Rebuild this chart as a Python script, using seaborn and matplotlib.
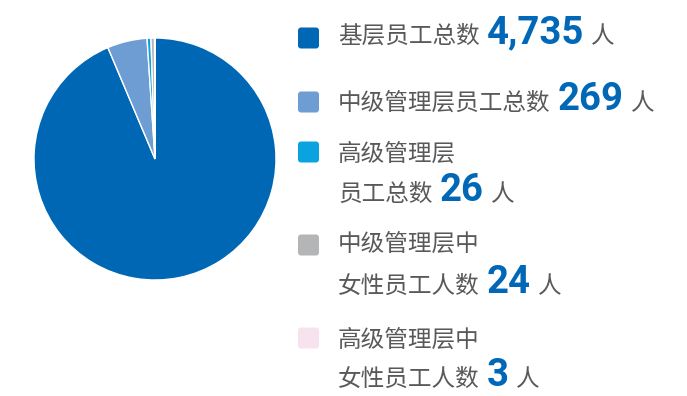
import matplotlib
matplotlib.use("Agg")
import matplotlib.pyplot as plt
from matplotlib.patches import FancyBboxPatch
from matplotlib.transforms import IdentityTransform
import seaborn as sns

# Headcount breakdown
categories = ["基层员工总数", "中级管理层员工总数", "高级管理层员工总数",
              "中级管理层中女性员工人数", "高级管理层中女性员工人数"]
counts = [4735, 269, 26, 24, 3]
count_labels = ["4,735", "269", "26", "24", "3"]
label_lines = [
    ["基层员工总数"],
    ["中级管理层员工总数"],
    ["高级管理层", "员工总数"],
    ["中级管理层中", "女性员工人数"],
    ["高级管理层中", "女性员工人数"],
]
slice_colors = ["#0067b5", "#6d9dd3", "#0aa3e0", "#b3b5b6", "#f6e3ee"]

sns.set_theme(style="white")
plt.rcParams["font.family"] = ["Noto Sans CJK SC", "DejaVu Sans"]

W, H = 687, 396
fig = plt.figure(figsize=(W / 100, H / 100), dpi=100)

# Pie
cx, cy, r = 155, 159, 121
ax = fig.add_axes([(cx - r) / W, 1 - (cy + r) / H, 2 * r / W, 2 * r / H])
ax.pie(counts, colors=slice_colors, startangle=90, counterclock=False,
       wedgeprops=dict(edgecolor="white", linewidth=1.0))
ax.set_xlim(-1, 1)
ax.set_ylim(-1, 1)
ax.set_aspect("equal")
ax.axis("off")

text_gray = "#5a5858"
num_blue = "#0068b7"
label_size = 17
num_size = 27.5
num_family = ["Roboto", "DejaVu Sans"]

# Legend rows: square centre y, and baseline y of each text line (pixels from top)
square_y = [38, 102, 152, 245, 338]
line_baselines = [[43], [110], [161, 201], [251, 293], [347, 386]]
square_x, square_size = 298, 21
text_x = 338
gap_num, gap_unit = 7, 7

renderer = fig.canvas.get_renderer()


def px(x, y):
    return x / W, 1 - y / H


for i in range(len(counts)):
    sq = FancyBboxPatch((square_x, H - square_y[i] - square_size / 2),
                        square_size, square_size,
                        boxstyle="round,pad=0,rounding_size=3",
                        facecolor=slice_colors[i], edgecolor="none",
                        transform=IdentityTransform())
    fig.add_artist(sq)

    lines = label_lines[i]
    bases = line_baselines[i]
    for j, line in enumerate(lines):
        t = fig.text(*px(text_x, bases[j]), line, fontsize=label_size,
                     color=text_gray, va="baseline", ha="left")
    # number and unit follow the last line
    x_end = t.get_window_extent(renderer).x1
    n = fig.text((x_end + gap_num) / W, 1 - bases[-1] / H, count_labels[i],
                 fontsize=num_size, color=num_blue, fontweight="bold",
                 family=num_family, va="baseline", ha="left")
    x_end2 = n.get_window_extent(renderer).x1
    fig.text((x_end2 + gap_unit) / W, 1 - bases[-1] / H, "人",
             fontsize=label_size, color=text_gray, va="baseline", ha="left")

fig.savefig("out.png", dpi=100, facecolor="white")
